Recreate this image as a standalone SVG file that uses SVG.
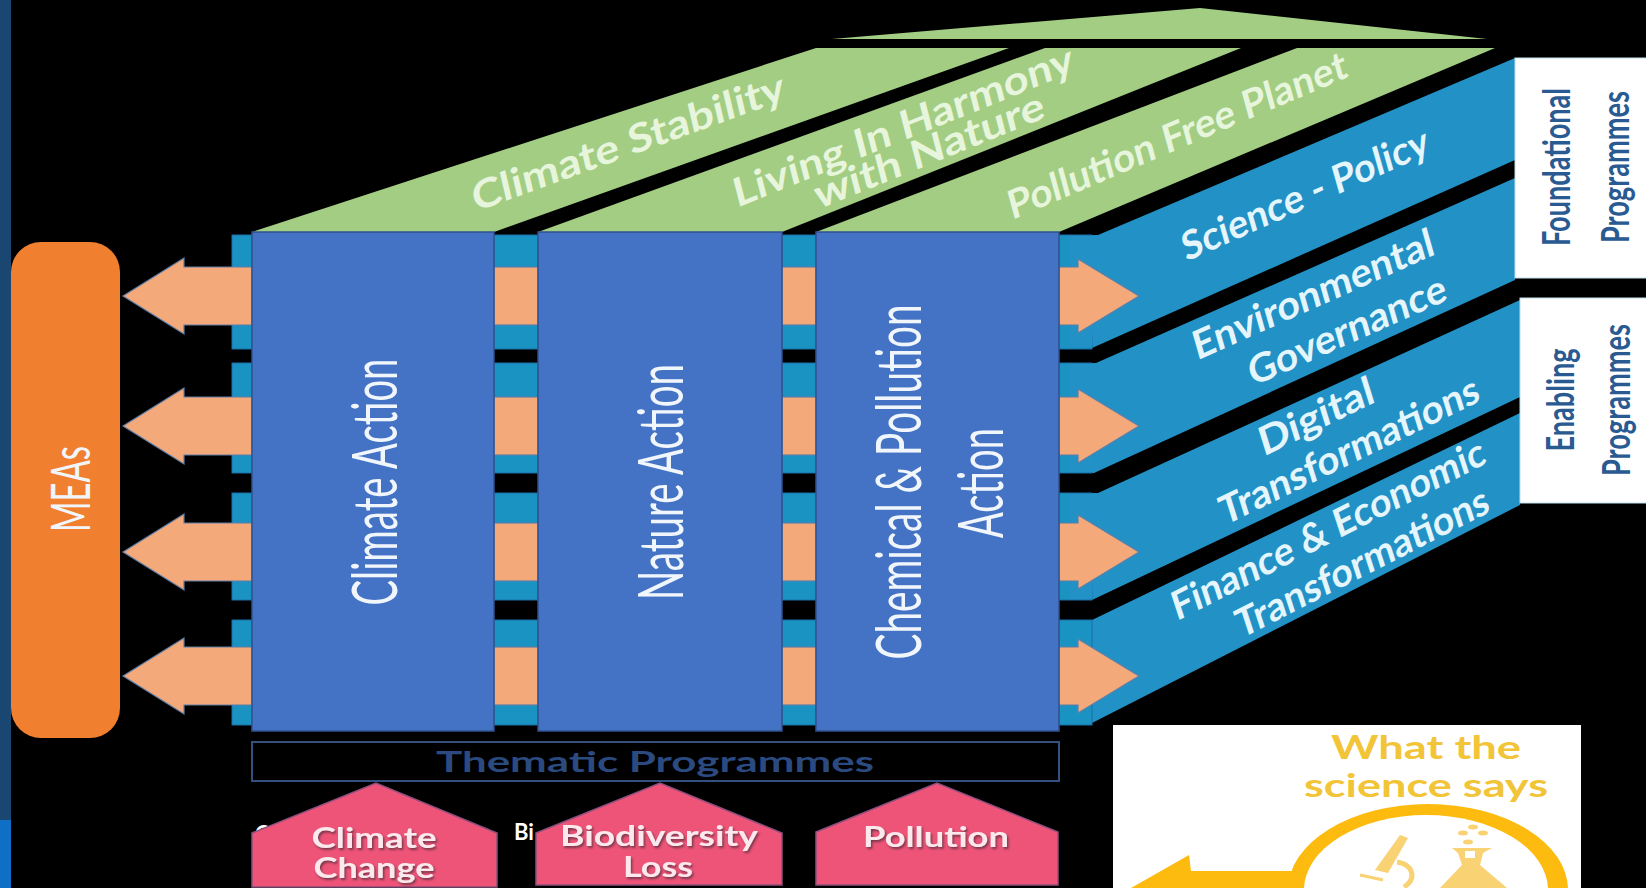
<svg xmlns="http://www.w3.org/2000/svg" width="1646" height="888" viewBox="0 0 1646 888">
<style>
text{font-family:"Lato","Liberation Sans",sans-serif}
.col{fill:#4472c4;stroke:#2f528f;stroke-width:1.5}
.tl{fill:#1b93c2;stroke:#1a6ea8;stroke-width:1}
.par{fill:#2191c6}
.gr{fill:#a2cd82}
.pe{fill:#f4a97a;stroke:#5f7fa8;stroke-width:1.2}
.pk{fill:#ee5478;stroke:#8c4f7c;stroke-width:1.5}
.wh{fill:#fff;stroke:#bfe0ee;stroke-width:1}
.big{fill:#f0f6fc;font-size:62px;text-anchor:middle}
.lg{fill:#e6f5dc;font-size:40px;font-weight:700;text-anchor:middle}
.lb{fill:#e4f5fc;font-size:40px;font-weight:700;text-anchor:middle}
.dk{fill:#2a5a92;font-size:38px;font-weight:700;text-anchor:middle}
.pt{fill:#fbe9ee;font-size:28px;font-weight:700;text-anchor:middle;filter:url(#sh)}
.ye{fill:#f2c437;font-size:33px;font-weight:700;text-anchor:middle}
.ic{fill:#f8d273}
</style>
<defs>
<filter id="sh" x="-10%" y="-20%" width="120%" height="150%"><feDropShadow dx="1.5" dy="2" stdDeviation="1" flood-color="#5a3040" flood-opacity=".8"/></filter>
<polygon id="la" class="pe" points="123,0 184,-38 184,-29 252,-29 252,29 184,29 184,38"/>
<polygon id="ra" class="pe" points="1059,-29 1078,-29 1078,-37 1139,0 1078,37 1078,29 1059,29"/>
<rect id="m1" class="pe" x="494" y="-29" width="44" height="58"/>
<rect id="m2" class="pe" x="782" y="-29" width="34" height="58"/>
</defs>
<rect width="1646" height="888" fill="#000"/>
<g id="side-band"><rect width="11" height="820" fill="#1a4672"/><rect y="820" width="11" height="68" fill="#0f6fc6"/></g>

<g id="roof"><polygon class="gr" points="832,39 1200,8 1487,39"/></g>
<g id="climate-stability"><polygon class="gr" points="252,232 494,232 1009,48 816,48"/><text class="lg" transform="translate(628,142) scale(.8,1) rotate(-16.2)" dy=".35em" textLength="405" lengthAdjust="spacingAndGlyphs">Climate Stability</text></g>
<g id="living-in-harmony"><polygon class="gr" points="538,232 782,232 1241,48 1045,48"/>
<text class="lg" transform="translate(903,126) scale(.8,1) rotate(-17.9)" dy=".35em" textLength="445" lengthAdjust="spacingAndGlyphs">Living In Harmony</text>
<text class="lg" transform="translate(929,150) scale(.8,1) rotate(-17.9)" dy=".35em" textLength="300" lengthAdjust="spacingAndGlyphs">with Nature</text></g>
<g id="pollution-free"><polygon class="gr" points="816,232 1059,232 1495,48 1297,48"/><text class="lg" transform="translate(1177,135) scale(.8,1) rotate(-18.8)" dy=".35em" textLength="445" lengthAdjust="spacingAndGlyphs">Pollution Free Planet</text></g>

<g id="science-policy"><polygon class="par" points="1059,235 1098,235 1515,58 1515,160 1092,348 1059,348"/><text class="lb" transform="translate(1305,194) scale(.8,1) rotate(-19.6)" dy=".35em" textLength="325" lengthAdjust="spacingAndGlyphs">Science - Policy</text></g>
<g id="environmental-governance"><polygon class="par" points="1059,363 1096,363 1515,178 1515,280 1094,473 1059,473"/>
<text class="lb" transform="translate(1313,294) scale(.8,1) rotate(-19.6)" dy=".35em" textLength="318" lengthAdjust="spacingAndGlyphs">Environmental</text>
<text class="lb" transform="translate(1347,330) scale(.8,1) rotate(-19.6)" dy=".35em" textLength="260" lengthAdjust="spacingAndGlyphs">Governance</text></g>
<g id="digital-transformations"><polygon class="par" points="1059,493 1098,493 1520,300 1520,397 1092,600 1059,600"/>
<text class="lb" transform="translate(1316,416) scale(.8,1) rotate(-21.3)" dy=".35em" textLength="152" lengthAdjust="spacingAndGlyphs">Digital</text>
<text class="lb" transform="translate(1349,450) scale(.8,1) rotate(-21.3)" dy=".35em" textLength="345" lengthAdjust="spacingAndGlyphs">Transformations</text></g>
<g id="finance-transformations"><polygon class="par" points="1059,620 1092,620 1520,413 1520,505 1092,723 1059,725"/>
<text class="lb" transform="translate(1328,529) scale(.8,1) rotate(-22.2)" dy=".35em" textLength="420" lengthAdjust="spacingAndGlyphs">Finance &amp; Economic</text>
<text class="lb" transform="translate(1362,562) scale(.8,1) rotate(-22.2)" dy=".35em" textLength="338" lengthAdjust="spacingAndGlyphs">Transformations</text></g>

<g id="strips">
<rect class="tl" x="232" y="235" width="20" height="114"/><rect class="tl" x="232" y="363" width="20" height="110"/><rect class="tl" x="232" y="493" width="20" height="107"/><rect class="tl" x="232" y="620" width="20" height="105"/>
<rect class="tl" x="494" y="235" width="44" height="114"/><rect class="tl" x="494" y="363" width="44" height="110"/><rect class="tl" x="494" y="493" width="44" height="107"/><rect class="tl" x="494" y="620" width="44" height="105"/>
<rect class="tl" x="782" y="235" width="34" height="114"/><rect class="tl" x="782" y="363" width="34" height="110"/><rect class="tl" x="782" y="493" width="34" height="107"/><rect class="tl" x="782" y="620" width="34" height="105"/>
<rect class="tl" x="1059" y="235" width="33" height="114"/><rect class="tl" x="1059" y="363" width="33" height="110"/><rect class="tl" x="1059" y="493" width="33" height="107"/><rect class="tl" x="1059" y="620" width="33" height="105"/>
<polygon class="par" points="1070,236 1098,236 1092,347 1070,347"/><polygon class="par" points="1070,364 1096,364 1094,472 1070,472"/><polygon class="par" points="1070,494 1098,494 1092,599 1070,599"/>
</g>

<g id="connectors">
<use href="#la" y="296"/><use href="#la" y="426"/><use href="#la" y="552"/><use href="#la" y="676"/>
<use href="#m1" y="296"/><use href="#m1" y="426"/><use href="#m1" y="552"/><use href="#m1" y="676"/>
<use href="#m2" y="296"/><use href="#m2" y="426"/><use href="#m2" y="552"/><use href="#m2" y="676"/>
<use href="#ra" y="296"/><use href="#ra" y="426"/><use href="#ra" y="552"/><use href="#ra" y="676"/>
</g>

<g id="meas"><rect x="11" y="242" width="109" height="496" rx="30" fill="#f07f2f"/><text class="big" style="font-size:54px" transform="translate(90,489) rotate(-90)" textLength="86" lengthAdjust="spacingAndGlyphs">MEAs</text></g>
<g id="climate-action"><rect class="col" x="252" y="232" width="242" height="499"/><text class="big" transform="translate(397,482) rotate(-90)" textLength="247" lengthAdjust="spacingAndGlyphs">Climate Action</text></g>
<g id="nature-action"><rect class="col" x="538" y="232" width="244" height="499"/><text class="big" transform="translate(683,482) rotate(-90)" textLength="236" lengthAdjust="spacingAndGlyphs">Nature Action</text></g>
<g id="chemical-action"><rect class="col" x="816" y="232" width="243" height="499"/>
<text class="big" transform="translate(921,482) rotate(-90)" textLength="355" lengthAdjust="spacingAndGlyphs">Chemical &amp; Pollution</text>
<text class="big" transform="translate(1003,483) rotate(-90)" textLength="110" lengthAdjust="spacingAndGlyphs">Action</text></g>

<g id="foundational"><rect class="wh" x="1515" y="58" width="135" height="220"/>
<text class="dk" transform="translate(1570,167) rotate(-90)" textLength="158" lengthAdjust="spacingAndGlyphs">Foundational</text>
<text class="dk" transform="translate(1629,167) rotate(-90)" textLength="152" lengthAdjust="spacingAndGlyphs">Programmes</text></g>
<g id="enabling"><rect class="wh" x="1520" y="298" width="130" height="205"/>
<text class="dk" transform="translate(1574,400) rotate(-90)" textLength="103" lengthAdjust="spacingAndGlyphs">Enabling</text>
<text class="dk" transform="translate(1630,400) rotate(-90)" textLength="152" lengthAdjust="spacingAndGlyphs">Programmes</text></g>

<g id="thematic"><rect x="252" y="742" width="807" height="39" fill="#000" stroke="#33507f" stroke-width="2"/><text x="655" y="772" style="fill:#2b4a80;font-size:29px;font-weight:700;text-anchor:middle" textLength="438" lengthAdjust="spacingAndGlyphs">Thematic Programmes</text></g>

<g id="hidden-labels"><text x="255" y="842" style="fill:#fff;font-size:22px;font-weight:700">C</text><text x="514" y="840" style="fill:#fff;font-size:22px;font-weight:700">Bi</text></g>
<g id="climate-change"><polygon class="pk" points="252,833 376,783 497,833 497,887 252,887"/><text class="pt" x="374" y="848" textLength="125" lengthAdjust="spacingAndGlyphs">Climate</text><text class="pt" x="374" y="878" textLength="121" lengthAdjust="spacingAndGlyphs">Change</text></g>
<g id="biodiversity-loss"><polygon class="pk" points="536,833 660,783 782,833 782,885 536,885"/><text class="pt" x="659" y="846" textLength="198" lengthAdjust="spacingAndGlyphs">Biodiversity</text><text class="pt" x="658" y="877" textLength="70" lengthAdjust="spacingAndGlyphs">Loss</text></g>
<g id="pollution"><polygon class="pk" points="816,832 937,783 1058,832 1058,885 816,885"/><text class="pt" x="936" y="847" textLength="146" lengthAdjust="spacingAndGlyphs">Pollution</text></g>

<g id="science-says"><rect x="1113" y="725" width="468" height="170" fill="#fff"/>
<text class="ye" x="1426" y="759" textLength="190" lengthAdjust="spacingAndGlyphs">What the</text>
<text class="ye" x="1426" y="797" textLength="244" lengthAdjust="spacingAndGlyphs">science says</text>
<polygon points="1131,888 1189,855 1191,871 1300,871 1300,888" fill="#fdbb10"/>
<ellipse cx="1428" cy="890" rx="140" ry="86" fill="#fdbb10"/><ellipse cx="1426" cy="890" rx="122" ry="75" fill="#fff"/>
<polygon class="ic" points="1400,835 1408,838 1388,873 1375,870"/>
<path d="M1397,862 C1412,864 1418,878 1404,887" fill="none" stroke="#f8d273" stroke-width="5"/>
<path d="M1360,875 L1383,880" fill="none" stroke="#f8d273" stroke-width="3"/>
<path class="ic" d="M1452,848 L1492,848 L1483,853 L1480,865 L1507,888 L1440,888 L1462,865 L1458,853Z"/>
<rect x="1465" y="851" width="10" height="7" fill="#fff"/>
<ellipse class="ic" cx="1473" cy="827" rx="5" ry="2.5"/><ellipse class="ic" cx="1463" cy="833" rx="5" ry="2.5"/><ellipse class="ic" cx="1483" cy="833" rx="5" ry="2.5"/><ellipse class="ic" cx="1468" cy="842" rx="5" ry="2.5"/>
</g>
</svg>
